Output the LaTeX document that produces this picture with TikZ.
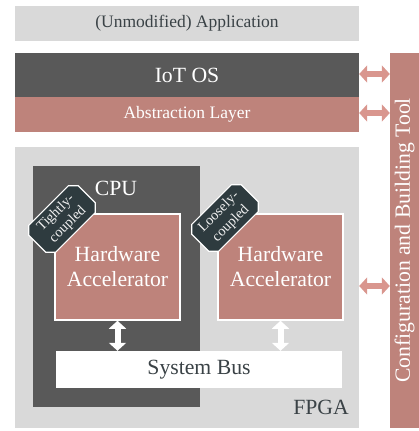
\documentclass[tikz,border=0pt]{standalone}
\usepackage{fontspec}
\setmainfont{Liberation Serif}
\usetikzlibrary{arrows.meta,shapes.misc}
\definecolor{lightgrey}{HTML}{D9D9D9}
\definecolor{darkgrey}{HTML}{595959}
\definecolor{rosy}{HTML}{BE837B}
\definecolor{arrowpink}{HTML}{D9968E}
\definecolor{tagslate}{HTML}{2E3B3F}
\definecolor{inktext}{HTML}{3A4246}
\begin{document}
\begin{tikzpicture}[x=1pt,y=-1pt,
  block/.style={rectangle, inner sep=0pt, draw=none},
  bigtext/.style={font=\fontsize{21.7}{25}\selectfont},
  smalltext/.style={font=\fontsize{17.5}{20}\selectfont},
  hwbox/.style={block, fill=rosy, draw=white, line width=1.5pt,
    minimum width=125, minimum height=106, bigtext, text=white, align=center},
  tag/.style={chamfered rectangle, chamfered rectangle angle=45,
    chamfered rectangle xsep=4pt,
    fill=tagslate, draw=white, line width=1.2pt, rotate=45,
    minimum width=70, minimum height=38, inner xsep=1pt, inner ysep=0pt,
    align=center, text=white!88!gray, font=\fontsize{14.3}{17}\selectfont},
  dblarrow/.style={line width=6pt,
    {Triangle[width=17pt,length=8pt]}-{Triangle[width=17pt,length=8pt]}},
]
\useasboundingbox (0,0) rectangle (419,431);

% software stack
\node[block, fill=lightgrey, minimum width=344, minimum height=35, smalltext, text=inktext]
  (app) at (187,23.5) {(Unmodified) Application};
\node[block, fill=darkgrey, minimum width=344, minimum height=44, bigtext, text=white]
  (os) at (187,75) {IoT OS};
\node[block, fill=rosy, minimum width=344, minimum height=35, smalltext, text=white]
  (abs) at (187,114.5) {Abstraction Layer};

% tool bar on the right
\node[block, fill=rosy, minimum width=29, minimum height=375] (tool) at (404.5,240.5) {};
\node[rotate=90, bigtext, text=white, inner sep=0pt] (tooltext) at (tool.center)
  {Configuration and Building Tool};

% hardware
\node[block, fill=lightgrey, minimum width=344, minimum height=281] (fpga) at (187,287.5) {};
\node[bigtext, text=inktext, inner sep=0pt] (fpgatext) at (321,407) {FPGA};
\node[block, fill=darkgrey, minimum width=167, minimum height=241] (cpu) at (116.5,286.5) {};
\node[bigtext, text=white, inner sep=0pt] (cputext) at (116,188) {CPU};

\node[hwbox] (hw1) at (117.5,267) {Hardware\\Accelerator};
\node[hwbox] (hw2) at (280.5,267) {Hardware\\Accelerator};

\node[tag] (tag1) at (62,219) {Tightly-\\coupled};
\node[tag] (tag2) at (225,218) {Loosely-\\coupled};

\node[block, fill=white, minimum width=286, minimum height=37, bigtext, text=inktext]
  (bus) at (199,369.5) {System Bus};

% connections
\draw[dblarrow, white] (hw1.south) -- (hw1.south |- bus.north);
\draw[dblarrow, white] (hw2.south) -- (hw2.south |- bus.north);
\draw[dblarrow, arrowpink] ([yshift=1pt]os.east) -- ([yshift=1pt]os.east -| tool.west);
\draw[dblarrow, arrowpink] ([yshift=1.5pt]abs.east) -- ([yshift=1.5pt]abs.east -| tool.west);
\draw[dblarrow, arrowpink] ([yshift=1.5pt]fpga.east) -- ([yshift=1.5pt]fpga.east -| tool.west);
\end{tikzpicture}
\end{document}
